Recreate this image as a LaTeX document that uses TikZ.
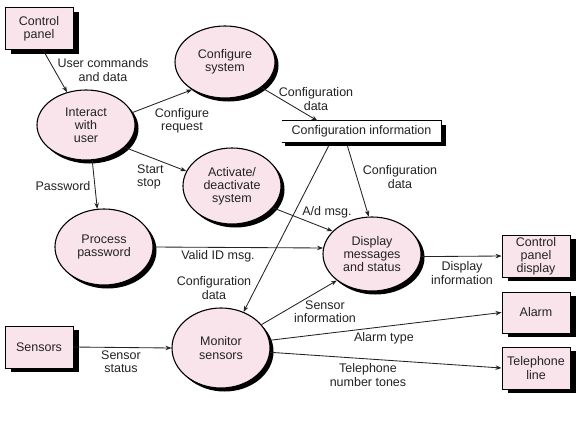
\documentclass[tikz,border=0pt]{standalone}
\usepackage{fontspec}
\setmainfont{Liberation Sans}
\usetikzlibrary{arrows.meta,shapes.geometric,shadows,calc}
\definecolor{pinkfill}{RGB}{250,228,236}
\definecolor{ink}{RGB}{35,35,35}
\begin{document}
\begin{tikzpicture}[x=1pt,y=-1pt, font=\fontsize{12.5}{13.2}\selectfont,
  proc/.style={ellipse, draw=black, line width=1.1pt, fill=pinkfill, inner sep=0pt, align=center, text=ink,
    drop shadow={shadow xshift=3.5pt, shadow yshift=-3.5pt, fill=black, opacity=1}},
  ext/.style={rectangle, draw=black, line width=0.9pt, fill=pinkfill, inner sep=0pt, align=center, text=ink,
    minimum width=68pt, minimum height=42pt,
    drop shadow={shadow xshift=6pt, shadow yshift=-4pt, fill=black, opacity=1}},
  flow/.style={draw=ink, line width=0.85pt, -{Stealth[length=6pt,width=4.5pt]}},
  lbl/.style={align=center, inner sep=0pt, text=ink}]
\fill[white] (0,0) rectangle (584,421);
\useasboundingbox (0,0) rectangle (584,421);

% external entities
\node[ext] (cp) at (39,28.5) {Control\\panel};
\node[ext] (sen) at (39,347) {Sensors};
\node[ext] (cpd) at (536,256) {Control\\panel\\display};
\node[ext, minimum height=41pt] (al) at (536,312.5) {Alarm};
\node[ext] (tl) at (536,368) {Telephone\\line};

% processes
\node[proc, minimum width=98pt, minimum height=70pt] (iu) at (86,125) {Interact\\with\\user};
\node[proc, minimum width=100pt, minimum height=72pt] (cs) at (225,62) {Configure\\system};
\node[proc, minimum width=98pt, minimum height=76pt] (ad) at (232,186) {Activate/\\deactivate\\system};
\node[proc, minimum width=98pt, minimum height=76pt] (pp) at (104,247) {Process\\password};
\node[proc, minimum width=98pt, minimum height=74pt] (dm) at (372,254) {Display\\messages\\and status};
\node[proc, minimum width=98pt, minimum height=80pt] (ms) at (221,348) {Monitor\\sensors};

% data store
\node[inner sep=0pt, minimum width=159pt, minimum height=21pt, text=ink] (st) at (361.5,131.5) {Configuration information};
\fill[black] ($(st.south west)+(3,0)$) rectangle ($(st.south east)+(5,4)$);
\fill[black] ($(st.north east)+(0,4)$) rectangle ($(st.south east)+(5,4)$);
\draw[line width=1pt] (st.north west) -- (st.north east) -- (st.south east) -- (st.south west);

% flows
\draw[flow] ([xshift=4pt]cp.south) -- (iu.120);
\draw[flow] (iu.15) -- (cs.220);
\draw[flow] (iu.-30) -- (ad.162);
\draw[flow] (iu.-80) -- (pp.100);
\draw[flow] (cs.-35) -- ([xshift=-44pt]st.north);
\draw[flow] ([xshift=-14pt,yshift=-4pt]st.south) -- (dm.95);
\draw[flow] ([xshift=-33pt,yshift=-4pt]st.south) -- (ms.58);
\draw[flow] (ad.-28) -- (dm.150);
\draw[flow] (pp.0) -- (dm.173);
\draw[flow] (ms.30) -- (dm.217);
\draw[flow] (dm.-3) -- (cpd.west);
\draw[flow] (ms.9) -- (al.west);
\draw[flow] (ms.-5) -- (tl.west);
\draw[flow] (sen.east) -- (ms.180);

% labels
\node[lbl] (l1) at (103,70) {User commands\\and data};
\node[lbl] (l2) at (182,121) {Configure\\request};
\node[lbl, align=left, anchor=west] (l3) at (137,177) {Start\\stop};
\node[lbl] (l4) at (63,186) {Password};
\node[lbl] (l5) at (316,99) {Configuration\\data};
\node[lbl] (l6) at (400,177) {Configuration\\data};
\node[lbl] (l7) at (214,288) {Configuration\\data};
\node[lbl] (l8) at (327,212) {A/d msg.};
\node[lbl] (l9) at (218,256) {Valid ID msg.};
\node[lbl] (l10) at (325,312) {Sensor\\information};
\node[lbl] (l11) at (462,273) {Display\\information};
\node[lbl] (l12) at (384,338) {Alarm type};
\node[lbl] (l13) at (368,375) {Telephone\\number tones};
\node[lbl] (l14) at (121,362) {Sensor\\status};
\end{tikzpicture}
\end{document}
